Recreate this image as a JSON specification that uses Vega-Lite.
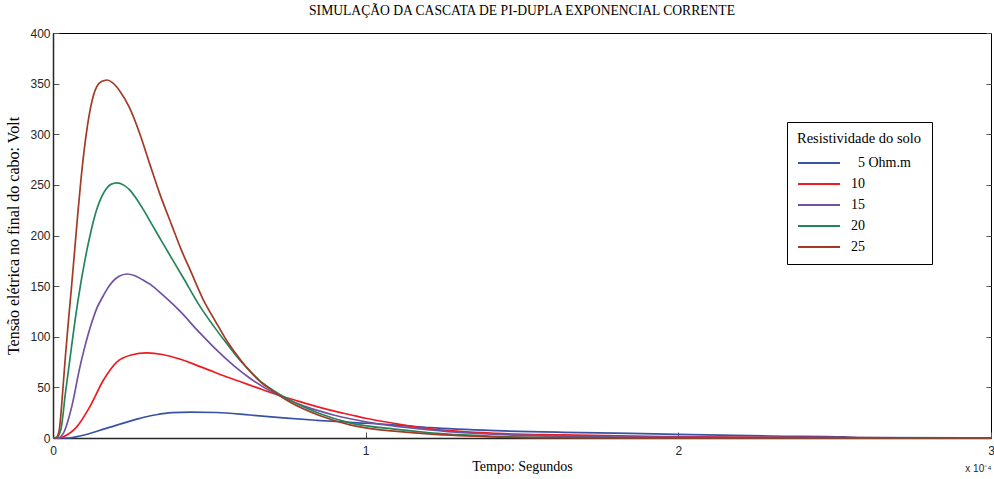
{
  "$schema": "https://vega.github.io/schema/vega-lite/v6.json",
  "autosize": "none",
  "width": 938,
  "height": 405,
  "padding": {"left": 53, "top": 33, "right": 3, "bottom": 41},
  "background": "white",
  "title": {"text": "SIMULAÇÃO DA CASCATA DE PI-DUPLA EXPONENCIAL CORRENTE", "font": "Liberation Serif", "fontSize": 13.6, "fontWeight": "normal", "color": "#000", "offset": 9},
  "config": {"view": {"stroke": "#000", "strokeWidth": 1}},
  "data": {"values": [
    {"t":0,"v":0,"s":"5"},{"t":0.05,"v":0,"s":"5"},{"t":0.086,"v":2,"s":"5"},{"t":0.17,"v":9.5,"s":"5"},{"t":0.278,"v":19.4,"s":"5"},{"t":0.33,"v":23,"s":"5"},{"t":0.38,"v":25,"s":"5"},{"t":0.44,"v":25.5,"s":"5"},{"t":0.523,"v":25.2,"s":"5"},{"t":0.63,"v":22.7,"s":"5"},{"t":0.737,"v":19.8,"s":"5"},{"t":0.843,"v":17.5,"s":"5"},{"t":0.95,"v":15.5,"s":"5"},{"t":1.1,"v":12.8,"s":"5"},{"t":1.206,"v":10.2,"s":"5"},{"t":1.419,"v":7.2,"s":"5"},{"t":1.632,"v":5.6,"s":"5"},{"t":1.845,"v":4.6,"s":"5"},{"t":1.995,"v":3.6,"s":"5"},{"t":2.3,"v":2,"s":"5"},{"t":2.53,"v":1.2,"s":"5"},{"t":2.6,"v":0.3,"s":"5"},{"t":3,"v":0,"s":"5"},
    {"t":0,"v":0,"s":"10"},{"t":0.02,"v":0,"s":"10"},{"t":0.033,"v":1.3,"s":"10"},{"t":0.076,"v":11,"s":"10"},{"t":0.118,"v":31,"s":"10"},{"t":0.161,"v":57,"s":"10"},{"t":0.204,"v":75,"s":"10"},{"t":0.25,"v":82,"s":"10"},{"t":0.3,"v":84,"s":"10"},{"t":0.35,"v":82.5,"s":"10"},{"t":0.4,"v":78.5,"s":"10"},{"t":0.45,"v":73,"s":"10"},{"t":0.5,"v":67,"s":"10"},{"t":0.55,"v":61,"s":"10"},{"t":0.6,"v":55.5,"s":"10"},{"t":0.65,"v":50,"s":"10"},{"t":0.7,"v":44.5,"s":"10"},{"t":0.75,"v":39.5,"s":"10"},{"t":0.8,"v":35,"s":"10"},{"t":0.85,"v":30.5,"s":"10"},{"t":0.9,"v":26.5,"s":"10"},{"t":0.95,"v":23,"s":"10"},{"t":1.0,"v":19.5,"s":"10"},{"t":1.1,"v":14,"s":"10"},{"t":1.2,"v":9.3,"s":"10"},{"t":1.3,"v":6.5,"s":"10"},{"t":1.42,"v":4.6,"s":"10"},{"t":1.63,"v":3,"s":"10"},{"t":1.95,"v":1.3,"s":"10"},{"t":2.3,"v":0.6,"s":"10"},{"t":3,"v":0.1,"s":"10"},
    {"t":0,"v":0,"s":"15"},{"t":0.015,"v":0,"s":"15"},{"t":0.033,"v":4.6,"s":"15"},{"t":0.06,"v":31,"s":"15"},{"t":0.086,"v":70,"s":"15"},{"t":0.1,"v":88,"s":"15"},{"t":0.113,"v":103,"s":"15"},{"t":0.125,"v":115,"s":"15"},{"t":0.14,"v":128,"s":"15"},{"t":0.16,"v":140,"s":"15"},{"t":0.175,"v":148,"s":"15"},{"t":0.192,"v":155,"s":"15"},{"t":0.21,"v":159.5,"s":"15"},{"t":0.237,"v":162,"s":"15"},{"t":0.26,"v":160.5,"s":"15"},{"t":0.288,"v":156,"s":"15"},{"t":0.31,"v":152,"s":"15"},{"t":0.352,"v":141,"s":"15"},{"t":0.41,"v":124,"s":"15"},{"t":0.46,"v":107,"s":"15"},{"t":0.523,"v":87,"s":"15"},{"t":0.58,"v":71,"s":"15"},{"t":0.63,"v":59,"s":"15"},{"t":0.68,"v":49,"s":"15"},{"t":0.737,"v":40,"s":"15"},{"t":0.79,"v":33,"s":"15"},{"t":0.843,"v":27.5,"s":"15"},{"t":0.9,"v":22.5,"s":"15"},{"t":0.95,"v":19,"s":"15"},{"t":1.0,"v":16,"s":"15"},{"t":1.1,"v":11.5,"s":"15"},{"t":1.206,"v":8,"s":"15"},{"t":1.312,"v":5.2,"s":"15"},{"t":1.52,"v":2.5,"s":"15"},{"t":1.8,"v":1,"s":"15"},{"t":2.2,"v":0.3,"s":"15"},{"t":3,"v":0,"s":"15"},
    {"t":0,"v":0,"s":"20"},{"t":0.012,"v":0.5,"s":"20"},{"t":0.025,"v":8,"s":"20"},{"t":0.04,"v":45,"s":"20"},{"t":0.05,"v":68,"s":"20"},{"t":0.06,"v":92,"s":"20"},{"t":0.07,"v":115,"s":"20"},{"t":0.08,"v":136,"s":"20"},{"t":0.09,"v":155,"s":"20"},{"t":0.1,"v":172,"s":"20"},{"t":0.11,"v":188,"s":"20"},{"t":0.12,"v":202,"s":"20"},{"t":0.13,"v":215,"s":"20"},{"t":0.14,"v":226,"s":"20"},{"t":0.155,"v":238,"s":"20"},{"t":0.17,"v":246,"s":"20"},{"t":0.185,"v":250.5,"s":"20"},{"t":0.205,"v":252,"s":"20"},{"t":0.225,"v":250,"s":"20"},{"t":0.245,"v":245,"s":"20"},{"t":0.265,"v":237,"s":"20"},{"t":0.288,"v":226,"s":"20"},{"t":0.32,"v":209,"s":"20"},{"t":0.352,"v":192,"s":"20"},{"t":0.417,"v":158,"s":"20"},{"t":0.47,"v":130,"s":"20"},{"t":0.515,"v":110,"s":"20"},{"t":0.555,"v":93.5,"s":"20"},{"t":0.6,"v":76,"s":"20"},{"t":0.63,"v":66,"s":"20"},{"t":0.66,"v":57,"s":"20"},{"t":0.7,"v":48,"s":"20"},{"t":0.76,"v":37,"s":"20"},{"t":0.85,"v":24.5,"s":"20"},{"t":0.95,"v":15,"s":"20"},{"t":1.1,"v":8.5,"s":"20"},{"t":1.206,"v":5.2,"s":"20"},{"t":1.312,"v":3,"s":"20"},{"t":1.42,"v":1.5,"s":"20"},{"t":1.6,"v":0.5,"s":"20"},{"t":2,"v":0,"s":"20"},{"t":3,"v":0,"s":"20"},
    {"t":0,"v":0,"s":"25"},{"t":0.01,"v":0.5,"s":"25"},{"t":0.02,"v":8,"s":"25"},{"t":0.03,"v":42,"s":"25"},{"t":0.04,"v":82,"s":"25"},{"t":0.05,"v":118,"s":"25"},{"t":0.06,"v":152,"s":"25"},{"t":0.07,"v":188,"s":"25"},{"t":0.08,"v":224,"s":"25"},{"t":0.09,"v":257,"s":"25"},{"t":0.1,"v":285,"s":"25"},{"t":0.11,"v":308,"s":"25"},{"t":0.12,"v":326,"s":"25"},{"t":0.13,"v":339,"s":"25"},{"t":0.14,"v":347,"s":"25"},{"t":0.155,"v":352,"s":"25"},{"t":0.173,"v":353.6,"s":"25"},{"t":0.19,"v":351,"s":"25"},{"t":0.213,"v":343,"s":"25"},{"t":0.245,"v":326,"s":"25"},{"t":0.277,"v":301,"s":"25"},{"t":0.309,"v":271,"s":"25"},{"t":0.341,"v":241.6,"s":"25"},{"t":0.38,"v":210,"s":"25"},{"t":0.41,"v":186,"s":"25"},{"t":0.44,"v":165,"s":"25"},{"t":0.48,"v":137,"s":"25"},{"t":0.52,"v":115,"s":"25"},{"t":0.56,"v":94,"s":"25"},{"t":0.6,"v":77,"s":"25"},{"t":0.63,"v":66,"s":"25"},{"t":0.66,"v":56.5,"s":"25"},{"t":0.7,"v":47,"s":"25"},{"t":0.76,"v":35,"s":"25"},{"t":0.85,"v":22.5,"s":"25"},{"t":0.95,"v":13,"s":"25"},{"t":1.0,"v":10,"s":"25"},{"t":1.1,"v":6.5,"s":"25"},{"t":1.2,"v":4,"s":"25"},{"t":1.3,"v":2.3,"s":"25"},{"t":1.4,"v":1.2,"s":"25"},{"t":1.6,"v":0.3,"s":"25"},{"t":2,"v":0,"s":"25"},{"t":3,"v":0,"s":"25"}
  ]},
  "resolve": {"axis": {"x": "independent", "y": "independent"}},
  "layer": [
    {
      "mark": {"type": "line", "strokeWidth": 1.7, "interpolate": "monotone"},
      "encoding": {
        "x": {"field": "t", "type": "quantitative", "scale": {"domain": [0, 3], "nice": false},
          "axis": {"title": "Tempo: Segundos", "titleFont": "Liberation Serif", "titleFontSize": 14, "titleFontWeight": "normal", "titleColor": "#000", "titlePadding": 3,
            "values": [0, 1, 2, 3], "format": "d", "labelFont": "Liberation Sans", "labelFontSize": 12, "labelColor": "#262626", "labelPadding": 13,
            "grid": false, "domainColor": "#262626", "domainWidth": 1.5, "tickColor": "#555", "tickSize": -6, "labelFlush": false}},
        "y": {"field": "v", "type": "quantitative", "scale": {"domain": [0, 400], "nice": false},
          "axis": {"title": "Tensão elétrica no final do cabo: Volt", "titleFont": "Liberation Serif", "titleFontSize": 16, "titleFontWeight": "normal", "titleColor": "#000", "titlePadding": 8,
            "values": [0, 50, 100, 150, 200, 250, 300, 350, 400], "labelFont": "Liberation Sans", "labelFontSize": 12, "labelColor": "#262626", "labelPadding": 9,
            "grid": false, "domainColor": "#262626", "domainWidth": 1.5, "tickColor": "#555", "tickSize": -6}},
        "color": {"field": "s", "type": "nominal",
          "scale": {"domain": ["5", "10", "15", "20", "25"], "range": ["#3953a4", "#ed1c24", "#7052a3", "#25855a", "#a33a26"]},
          "legend": {"title": "Resistividade do solo", "orient": "none", "legendX": 734, "legendY": 89,
            "titleFont": "Liberation Serif", "titleFontSize": 14.5, "titleFontWeight": "normal", "titleColor": "#000", "titlePadding": 5,
            "labelFont": "Liberation Serif", "labelFontSize": 14, "labelColor": "#000",
            "labelExpr": "datum.label == '5' ? '\u200b\u20075 Ohm.m' : datum.label",
            "symbolType": "M-1,0L3,0", "symbolStrokeWidth": 2, "symbolSize": 441, "labelOffset": 31,
            "rowPadding": 2, "strokeColor": "#000", "fillColor": "#fff", "padding": 10, "offset": 0}}
      }
    },
    {
      "mark": {"type": "point", "opacity": 0},
      "encoding": {
        "x": {"field": "t", "type": "quantitative",
          "axis": {"orient": "bottom", "title": "x 10⁻⁴", "titleAnchor": "end", "titleFont": "Liberation Sans", "titleFontSize": 10, "titleFontWeight": "normal", "titleColor": "#262626",
            "labels": false, "ticks": false, "domain": false, "grid": false, "offset": 0, "titlePadding": 0, "titleX": 938, "titleY": 25}},
        "y": {"field": "v", "type": "quantitative",
          "axis": {"orient": "right", "title": null, "labels": false, "domain": false, "grid": false,
            "values": [0, 50, 100, 150, 200, 250, 300, 350, 400], "tickSize": -5, "tickColor": "#555"}}
      }
    }
  ]
}
